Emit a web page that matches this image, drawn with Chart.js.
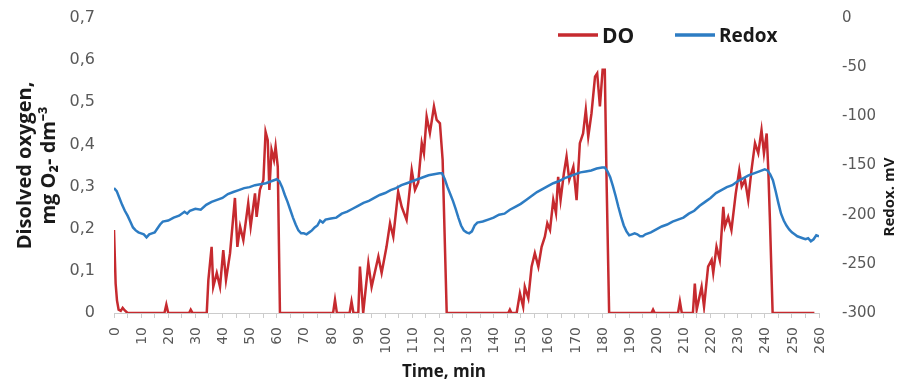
<!DOCTYPE html>
<html>
<head>
<meta charset="utf-8">
<script src="https://cdn.jsdelivr.net/npm/chart.js@4.4.1/dist/chart.umd.min.js"></script>
<style>
  html, body { margin: 0; padding: 0; background: #fff; }
  canvas { display: block; }
</style>
</head>
<body>
<canvas id="chart" width="899" height="385"></canvas>
<script>
// Dissolved oxygen (mg O2 dm-3) against time (min)
const doTime = [
  0, 0.6, 1.1, 1.7, 2.5, 3.2, 4, 5, 18.6, 19.3, 20, 27.7, 28.3, 29,
  34.2, 34.8, 36, 36.6, 37.9, 39.1, 40.3, 41.3, 42.8, 44.6, 45.5, 46.5, 47.7, 49.5, 50.4,
  52, 52.6, 53.8, 55.1, 55.9, 56.7, 57.3, 58.1, 59, 59.6, 60.4, 61.2,
  80.8, 81.5, 82.2, 86.9, 87.6, 88.3, 90.1, 90.7, 91.9, 93.8, 95, 97.5, 98.7, 100.5,
  101.8, 103, 104.8, 106.1, 107.9, 109.8, 111, 112.2, 113.5, 114.3, 115.3, 116.5, 118,
  119, 120.2, 121.2, 122.7,
  145.4, 146, 146.6, 148.5, 149.7, 150.9, 151.5, 152.8, 154, 155.2, 156.5, 157.7, 158.9,
  159.8, 160.8, 162, 163, 163.8, 164.7, 165.9, 166.9, 167.9, 169.4, 170.6, 171.8, 173,
  174, 174.9, 176.1, 177.4, 178.2, 179.2, 180.2, 181, 181.7, 182.6,
  198.2, 198.8, 199.4, 208, 208.7, 209.4, 213.5, 214.2, 214.9, 215.8, 216.7, 217.6, 219.1,
  220.4, 221, 222.2, 223.4, 224.7, 225.3, 226.5, 227.7, 229.3, 230.6, 231.5, 232.7, 233.9,
  235.1, 236.4, 237.6, 238.8, 239.7, 240.7, 241.3, 241.9, 242.9, 258.3
];
const doValue = [
  0.197, 0.07, 0.03, 0.008, 0.005, 0.012, 0.006, 0, 0, 0.02, 0, 0, 0.008, 0,
  0, 0.078, 0.157, 0.062, 0.095, 0.062, 0.149, 0.078, 0.142, 0.273, 0.157, 0.205, 0.173, 0.26, 0.205,
  0.284, 0.228, 0.292, 0.316, 0.43, 0.41, 0.292, 0.387, 0.363, 0.395, 0.347, 0,
  0, 0.031, 0, 0, 0.027, 0, 0, 0.11, 0, 0.118, 0.062, 0.134, 0.095, 0.157,
  0.213, 0.181, 0.288, 0.252, 0.221, 0.339, 0.292, 0.31, 0.403, 0.379, 0.466, 0.427, 0.49,
  0.458, 0.45, 0.363, 0,
  0, 0.008, 0, 0, 0.047, 0.015, 0.062, 0.035, 0.11, 0.142, 0.11, 0.157, 0.181,
  0.213, 0.197, 0.268, 0.237, 0.323, 0.268, 0.331, 0.371, 0.316, 0.347, 0.268, 0.403, 0.426,
  0.482, 0.418, 0.474, 0.561, 0.569, 0.49, 0.577, 0.577, 0.3, 0,
  0, 0.008, 0, 0, 0.027, 0, 0, 0.07, 0.008, 0.035, 0.062, 0.015, 0.11,
  0.126, 0.095, 0.157, 0.126, 0.252, 0.205, 0.228, 0.197, 0.284, 0.339, 0.3, 0.316, 0.268,
  0.339, 0.403, 0.379, 0.434, 0.379, 0.426, 0.339, 0.221, 0, 0
];

// Redox potential (mV) against time (min)
const redoxTime = [
  0, 1, 2, 3, 4, 5, 6, 7, 8, 9, 10, 11, 12, 13, 14, 15, 16, 17, 18, 20, 22, 24, 26, 27, 28,
  30, 32, 34, 36, 38, 40, 42, 44, 46, 48, 50, 52, 54, 56, 58, 60,
  61, 62, 63, 64, 65, 66, 67, 68, 69, 70, 71, 72, 73, 74, 75, 76, 77, 78, 80, 82, 84, 86,
  88, 90, 92, 94, 96, 98, 100, 102, 104, 106, 108, 110, 112, 114, 116, 118, 120,
  121, 122, 123, 124, 125, 126, 127, 128, 129, 130, 131, 132, 133, 134, 136, 138, 140,
  142, 144, 146, 148, 150, 152, 154, 156, 158, 160, 162, 164, 166, 168, 170, 172, 174,
  176, 178, 180, 181, 182, 183, 184, 185, 186, 187, 188, 189, 190, 191, 192, 193, 194,
  195, 196, 198, 200, 202, 204, 206, 208, 210, 212, 214, 216, 218, 220, 222, 224, 226,
  228, 230, 232, 234, 236, 238, 240, 241, 242, 243, 244, 245, 246, 247, 248, 249, 250,
  251, 252, 253, 254, 255, 256, 257, 258, 259, 260
];
const redoxValue = [
  -173, -176, -183, -190, -196, -201, -207, -213, -216, -218, -219, -220, -223, -220, -219, -218, -214, -210, -207, -206, -203, -201, -197, -199, -196,
  -194, -195, -190, -187, -185, -183, -179, -177, -175, -173, -172, -170, -169, -168, -166, -164,
  -166, -172, -180, -187, -195, -203, -210, -216, -219, -219, -220, -218, -216, -213, -211, -206, -208, -205, -204, -203, -199, -197,
  -194, -191, -188, -186, -183, -180, -178, -175, -173, -170, -168, -166, -164, -162, -160, -159, -158,
  -158, -164, -172, -179, -186, -194, -203, -211, -216, -218, -219, -217, -211, -208, -207, -205, -203,
  -200, -199, -195, -192, -189, -185, -181, -177, -174, -171, -168, -166, -163, -161, -159, -157, -156,
  -155, -153, -152, -152, -156, -162, -171, -181, -192, -202, -211, -217, -221, -220, -219, -220, -222,
  -222, -220, -218, -215, -212, -210, -207, -205, -203, -199, -196, -191, -187, -183, -178, -175, -172,
  -170, -166, -163, -160, -158, -156, -154, -155, -159, -165, -176, -188, -199, -206, -211, -215, -218,
  -220, -222, -223, -224, -225, -224, -227, -225, -221, -222
];

// Axis labelling
const timeLabels = [0, 10, 20, 30, 40, 50, 60, 70, 80, 90, 100, 110, 120, 130, 140, 150, 160, 170, 180, 190, 200, 210, 220, 230, 240, 250, 260];
const seriesNames = ['DO', 'Redox'];
const seriesColors = ['#c62a2f', '#2d7cc3'];
const oxygenTitle = ['Disolved oxygen,', 'mg O\u2082- dm\u207B\u00B3'];
const timeTitle = 'Time, min';
const redoxTitle = 'Redox. mV';

const toPoints = (xs, ys) => xs.map((t, i) => ({ x: t, y: ys[i] }));

const decor = {
  id: 'decor',
  beforeDraw(chart) {
    const c = chart.ctx;
    c.save();
    c.fillStyle = '#ffffff';
    c.fillRect(0, 0, chart.width, chart.height);
    c.restore();
  },
  afterDraw(chart) {
    const c = chart.ctx;
    c.save();
    c.lineCap = 'butt';
    c.textBaseline = 'middle';
    c.textAlign = 'left';
    c.fillStyle = '#1a1a1a';

    // legend
    c.lineWidth = 3.5;
    c.strokeStyle = seriesColors[0];
    c.beginPath(); c.moveTo(558, 35); c.lineTo(598, 35); c.stroke();
    c.font = 'bold 21px "Open Sans"';
    c.fillText(seriesNames[0], 602, 37);

    c.strokeStyle = seriesColors[1];
    c.beginPath(); c.moveTo(675, 35); c.lineTo(715, 35); c.stroke();
    c.font = 'bold 19px "Open Sans"';
    c.fillText(seriesNames[1], 719, 37);

    // time axis caption
    c.textAlign = 'center';
    c.font = 'bold 17px "Open Sans"';
    c.fillText(timeTitle, 444, 372);

    // redox axis caption, read bottom to top
    c.translate(890, 197);
    c.rotate(-Math.PI / 2);
    c.font = 'bold 15px "Open Sans"';
    c.fillText(redoxTitle, 0, 0);
    c.restore();
  }
};

new Chart(document.getElementById('chart'), {
  type: 'line',
  data: {
    datasets: [
      {
        label: seriesNames[0],
        data: toPoints(doTime, doValue),
        yAxisID: 'y',
        borderColor: seriesColors[0],
        backgroundColor: seriesColors[0],
        borderWidth: 2.5,
        pointRadius: 0,
        tension: 0,
        order: 1
      },
      {
        label: seriesNames[1],
        data: toPoints(redoxTime, redoxValue),
        yAxisID: 'y2',
        borderColor: seriesColors[1],
        backgroundColor: seriesColors[1],
        borderWidth: 2.5,
        pointRadius: 0,
        tension: 0,
        order: 0
      }
    ]
  },
  options: {
    responsive: false,
    animation: false,
    devicePixelRatio: 1,
    layout: { padding: { top: 18, left: 0, right: 0, bottom: 0 } },
    plugins: {
      legend: { display: false },
      tooltip: { enabled: false },
      title: { display: false }
    },
    scales: {
      x: {
        type: 'linear',
        min: 0,
        max: 260,
        afterFit(scale) { scale.height = 72; },
        ticks: {
          stepSize: 5,
          autoSkip: false,
          minRotation: 90,
          maxRotation: 90,
          padding: 9,
          labelOffset: 1,
          color: '#595959',
          font: { family: 'DejaVu Sans', size: 14 },
          callback: (v) => timeLabels.includes(v) ? String(v) : ''
        },
        grid: {
          display: true,
          drawOnChartArea: false,
          drawTicks: true,
          tickLength: 5,
          color: '#cccccc',
          lineWidth: 1
        },
        border: { display: true, color: '#cccccc', width: 1 }
      },
      y: {
        type: 'linear',
        position: 'left',
        min: 0,
        max: 0.7,
        afterFit(scale) { scale.width = 114; },
        ticks: {
          stepSize: 0.1,
          padding: 0,
          color: '#595959',
          font: { family: 'DejaVu Sans', size: 16 },
          callback: (v) => v === 0 ? '0' : v.toFixed(1).replace('.', ',')
        },
        grid: { display: true, drawOnChartArea: false, drawTicks: true, tickLength: 19, color: 'rgba(0,0,0,0)' },
        border: { display: false },
        title: {
          display: true,
          text: oxygenTitle,
          color: '#1a1a1a',
          font: { family: 'Open Sans', weight: 'bold', size: 20, lineHeight: 1.2 },
          padding: { top: 13, bottom: 0 }
        }
      },
      y2: {
        type: 'linear',
        position: 'right',
        min: -300,
        max: 0,
        afterFit(scale) { scale.width = 80; },
        ticks: {
          stepSize: 50,
          padding: 0,
          color: '#595959',
          font: { family: 'DejaVu Sans', size: 15 }
        },
        grid: { display: true, drawOnChartArea: false, drawTicks: true, tickLength: 23, color: 'rgba(0,0,0,0)' },
        border: { display: false }
      }
    }
  },
  plugins: [decor]
});
</script>
</body>
</html>
